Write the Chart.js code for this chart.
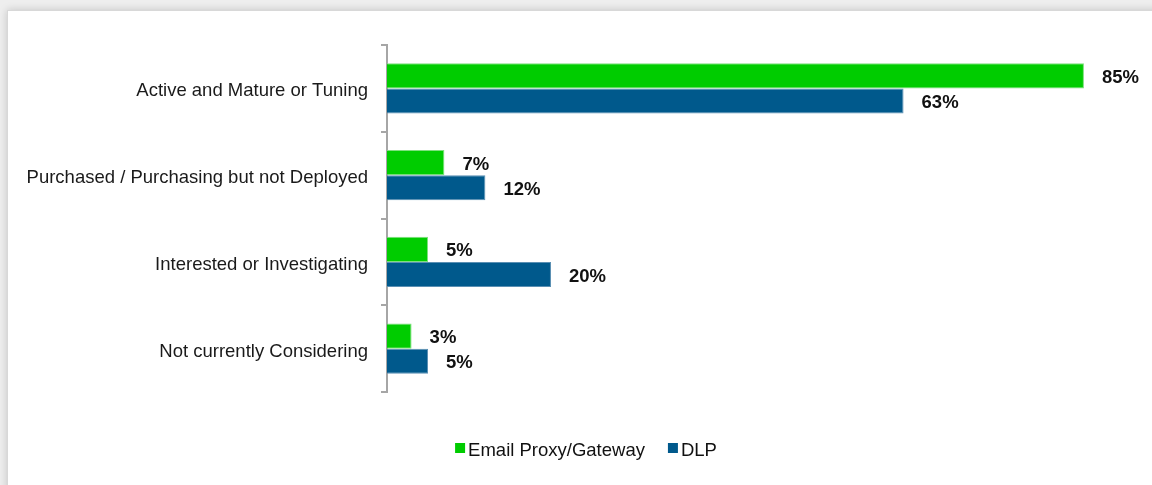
<!DOCTYPE html>
<html>
<head>
<meta charset="utf-8">
<script src="https://cdn.jsdelivr.net/npm/chart.js@4/dist/chart.umd.min.js"></script>
<style>
  html, body { margin: 0; padding: 0; width: 1152px; height: 485px; overflow: hidden; background: #eeeeee; }
  #panel { position: absolute; left: 7px; top: 10px; width: 1160px; height: 490px; background: #ffffff;
           border: 1px solid #d8d8d8; box-shadow: 0 0 8px rgba(0,0,0,0.18); }
  #wrap { position: absolute; left: 0; top: 0; width: 1152px; height: 485px; }
</style>
</head>
<body>
<div id="panel"></div>
<div id="wrap"><canvas id="c" width="1152" height="485"></canvas></div>
<script>
// Adoption stage of each technology (percent of respondents)
const categories = [
  'Active and Mature or Tuning',
  'Purchased / Purchasing but not Deployed',
  'Interested or Investigating',
  'Not currently Considering'
];
const emailProxy = [85, 7, 5, 3];
const dlp = [63, 12, 20, 5];
const seriesNames = ['Email Proxy/Gateway', 'DLP'];
const seriesColors = ['#00cc00', '#00598c'];
const seriesBorders = ['#7ee07e', '#5a8fb3'];

const FONT = '"Liberation Sans", Arial, sans-serif';

// Value labels drawn just past the end of each bar
const valueLabels = {
  id: 'valueLabels',
  afterDatasetsDraw(chart) {
    const ctx = chart.ctx;
    ctx.save();
    ctx.font = 'bold 18.5px ' + FONT;
    ctx.fillStyle = '#111111';
    ctx.textAlign = 'left';
    ctx.textBaseline = 'middle';
    chart.data.datasets.forEach((ds, di) => {
      chart.getDatasetMeta(di).data.forEach((bar, i) => {
        ctx.fillText(ds.data[i] + '%', bar.x + 18, bar.y + 2);
      });
    });
    ctx.restore();
  }
};

// Legend centred under the plot
const bottomLegend = {
  id: 'bottomLegend',
  afterDraw(chart) {
    const ctx = chart.ctx;
    ctx.save();
    ctx.font = '18.5px ' + FONT;
    ctx.textBaseline = 'middle';
    const box = 10, gapText = 3, gapItem = 23, y = 451;
    const widths = chart.data.datasets.map(ds => box + gapText + ctx.measureText(ds.label).width);
    const total = widths.reduce((a, b) => a + b, 0) + gapItem * (widths.length - 1);
    let x = 586 - total / 2;
    chart.data.datasets.forEach((ds, i) => {
      ctx.fillStyle = ds.backgroundColor;
      ctx.fillRect(x, y - 8, box, box);
      ctx.fillStyle = '#111111';
      ctx.fillText(ds.label, x + box + gapText, y);
      x += widths[i] + gapItem;
    });
    ctx.restore();
  }
};

new Chart(document.getElementById('c'), {
  type: 'bar',
  data: {
    labels: categories,
    datasets: [
      { label: seriesNames[0], data: emailProxy, backgroundColor: seriesColors[0], borderColor: seriesBorders[0], borderWidth: 1 },
      { label: seriesNames[1], data: dlp, backgroundColor: seriesColors[1], borderColor: seriesBorders[1], borderWidth: 1 }
    ]
  },
  options: {
    indexAxis: 'y',
    responsive: false,
    animation: false,
    devicePixelRatio: 1,
    layout: { padding: { left: 7, right: 0, top: 45, bottom: 93 } },
    datasets: { bar: { categoryPercentage: 0.58, barPercentage: 1.0 } },
    plugins: { legend: { display: false }, tooltip: { enabled: false } },
    scales: {
      x: { display: false, min: 0, max: 93.3 },
      y: {
        afterFit(scale) { scale.width = 380; },
        border: { display: true, color: '#a6a6a6', width: 2 },
        grid: { display: true, drawOnChartArea: false, drawTicks: true, tickLength: 6, color: '#a6a6a6', lineWidth: 2, offset: true },
        ticks: { color: '#1a1a1a', padding: 13, labelOffset: 3, font: { family: FONT, size: 18.5 } }
      }
    }
  },
  plugins: [valueLabels, bottomLegend]
});
</script>
</body>
</html>
